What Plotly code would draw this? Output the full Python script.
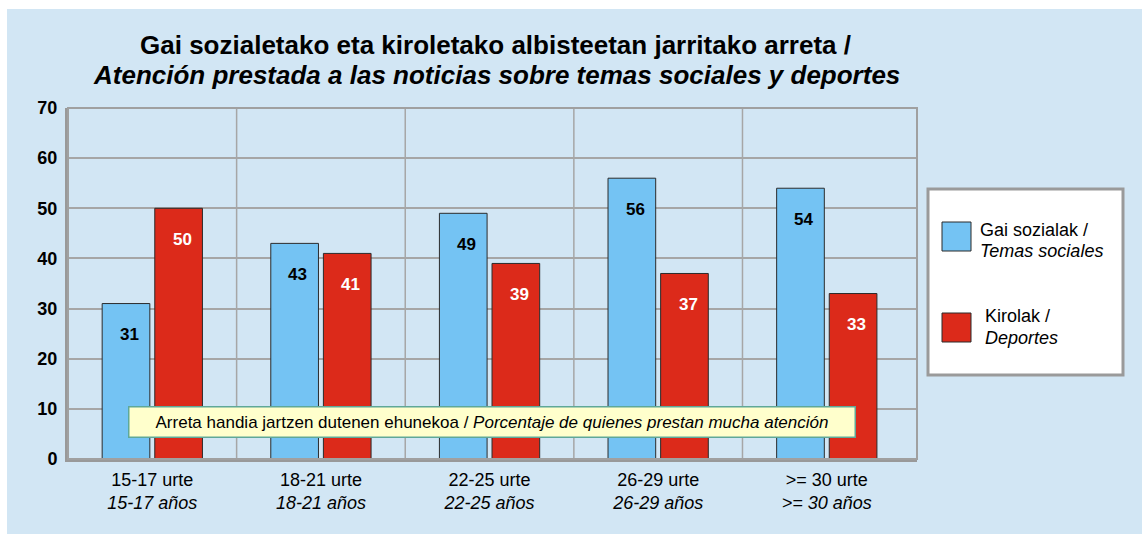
import plotly.graph_objects as go

# Age groups (Basque / Spanish)
age_eu = ["15-17 urte", "18-21 urte", "22-25 urte", "26-29 urte", ">= 30 urte"]
age_es = ["15-17 años", "18-21 años", "22-25 años", "26-29 años", ">= 30 años"]

# Share paying a lot of attention (%)
social_values = [31, 43, 49, 56, 54]
sports_values = [50, 41, 39, 37, 33]

series_names = [("Gai sozialak /", "Temas sociales"), ("Kirolak /", "Deportes")]

title_eu = "Gai sozialetako eta kiroletako albisteetan jarritako arreta /"
title_es = "Atención prestada a las noticias sobre temas sociales y deportes"
note_eu = "Arreta handia jartzen dutenen ehunekoa / "
note_es = "Porcentaje de quienes prestan mucha atención"

BLUE = "#74C3F3"
RED = "#DC2A1A"
GRID = "#A6A6A6"
BG = "#D2E6F4"
FONT = "Liberation Sans, Arial, sans-serif"

W, H = 1142, 534
ML, MR, MT, MB = 68, 225, 108, 75
PW, PH = W - ML - MR, H - MT - MB


def px(x):
    return (x - ML) / PW


def py(y):
    return (H - MB - y) / PH


def text_line(x, y, text, size, anchor="center"):
    return dict(xref="paper", yref="paper", x=px(x), y=py(y), xanchor=anchor,
                yanchor="middle", text=text, showarrow=False,
                font=dict(family=FONT, size=size, color="black"))


cats = [f"{eu}<br><i>{es}</i>" for eu, es in zip(age_eu, age_es)]

fig = go.Figure()
for vals, color, name in [(social_values, BLUE, series_names[0]),
                          (sports_values, RED, series_names[1])]:
    fig.add_trace(go.Bar(
        x=cats, y=vals, name=" ".join(name),
        marker=dict(color=color, line=dict(color="#2b2b2b", width=1)),
        hoverinfo="skip",
    ))

# value labels a little below each bar top
for i, cat in enumerate(cats):
    fig.add_annotation(x=cat, y=social_values[i], text=f"<b>{social_values[i]}</b>",
                       showarrow=False, xshift=-23, yshift=-31,
                       font=dict(family=FONT, size=17, color="black"))
    fig.add_annotation(x=cat, y=sports_values[i], text=f"<b>{sports_values[i]}</b>",
                       showarrow=False, xshift=30, yshift=-31,
                       font=dict(family=FONT, size=17, color="white"))

shapes = [
    # light blue panel
    dict(type="rect", xref="paper", yref="paper", layer="below",
         x0=px(7), x1=px(W + 5), y0=py(H + 5), y1=py(9),
         fillcolor=BG, line=dict(width=0)),
]
# vertical separators between age groups
for i in range(len(cats) - 1):
    shapes.append(dict(type="line", xref="x", yref="paper", layer="below",
                       x0=i + 0.5, x1=i + 0.5, y0=0, y1=1,
                       line=dict(color=GRID, width=1.5)))
shapes += [
    # plot frame
    dict(type="rect", xref="paper", yref="paper", x0=0, x1=1, y0=0, y1=1,
         line=dict(color="#A0A0A0", width=2)),
    # legend box
    dict(type="rect", xref="paper", yref="paper",
         x0=px(928), x1=px(1123), y0=py(375), y1=py(189),
         fillcolor="white", line=dict(color="#9A9A9A", width=3)),
    # legend swatches
    dict(type="rect", xref="paper", yref="paper",
         x0=px(942), x1=px(971), y0=py(251), y1=py(222),
         fillcolor=BLUE, line=dict(color="#2b2b2b", width=1)),
    dict(type="rect", xref="paper", yref="paper",
         x0=px(942), x1=px(971), y0=py(342), y1=py(313),
         fillcolor=RED, line=dict(color="#2b2b2b", width=1)),
]

annotations = [
    # title, two lines
    text_line(495, 45, f"<b>{title_eu}</b>", 26),
    text_line(496, 75, f"<b><i>{title_es}</i></b>", 26),
    # legend labels
    text_line(978, 230, series_names[0][0], 18, "left"),
    text_line(978, 251, f"<i>{series_names[0][1]}</i>", 18, "left"),
    text_line(983, 316, series_names[1][0], 18, "left"),
    text_line(983, 338, f"<i>{series_names[1][1]}</i>", 18, "left"),
    # footnote box
    dict(xref="paper", yref="paper", x=px(491.5), y=py(421.5), xanchor="center", yanchor="middle",
         text=f"{note_eu}<i>{note_es}</i>", showarrow=False,
         width=723, height=27, borderpad=1, borderwidth=1.5,
         bgcolor="#FFFFCC", bordercolor="#5FA898",
         font=dict(family=FONT, size=17, color="black")),
]

for a in annotations:
    fig.add_annotation(**a)

fig.update_layout(
    width=W, height=H,
    margin=dict(l=ML, r=MR, t=MT, b=MB, pad=0),
    paper_bgcolor="white", plot_bgcolor="white",
    barmode="group", bargap=0.376, bargroupgap=0.094,
    showlegend=False,
    shapes=shapes,
    font=dict(family=FONT, color="black"),
    xaxis=dict(type="category", range=[-0.5, 4.535], showgrid=False, ticks="",
               showline=True, linecolor="#999999", linewidth=3,
               tickfont=dict(family=FONT, size=18), ticklabelstandoff=2),
    yaxis=dict(range=[0, 70], dtick=10, showgrid=True, gridcolor=GRID, gridwidth=1.5,
               zeroline=False, ticks="", showline=True, linecolor="#999999", linewidth=3,
               tickfont=dict(family=FONT, size=18), ticklabelstandoff=4,
               tickprefix="<b>", ticksuffix="</b>"),
)

fig.write_html("out.html")
